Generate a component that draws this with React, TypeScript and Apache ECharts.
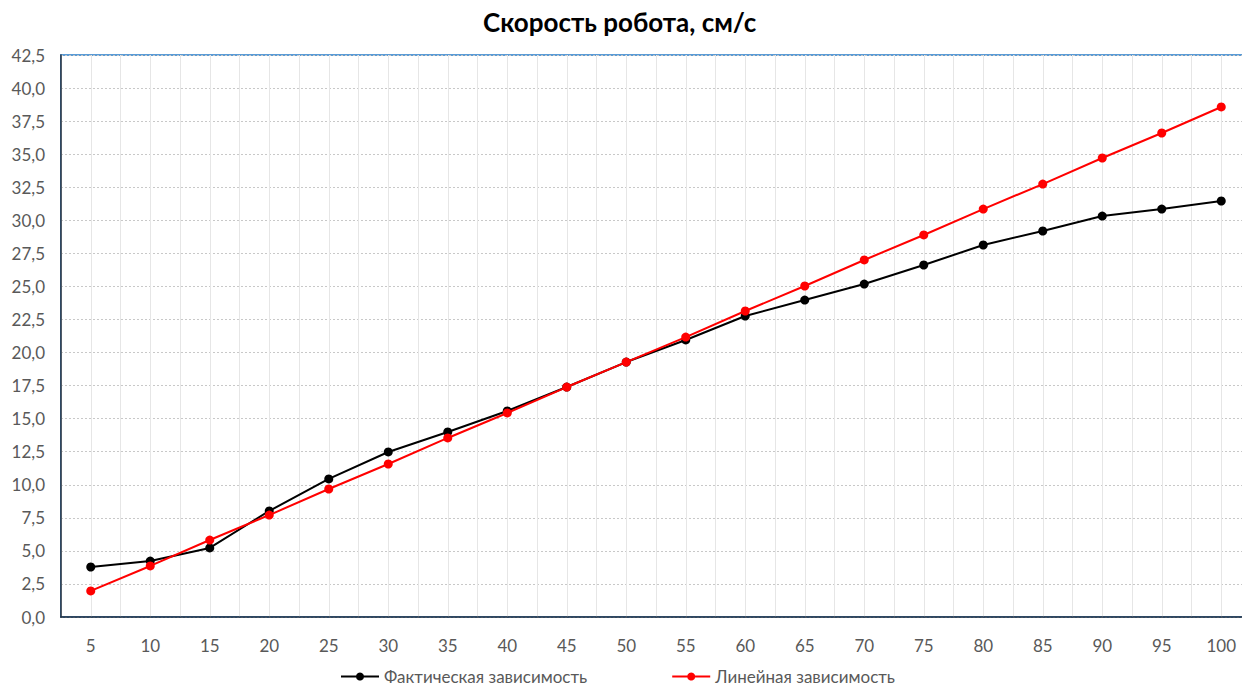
import React, { useEffect, useRef } from "react";
import * as echarts from "echarts";

const speeds = [5, 10, 15, 20, 25, 30, 35, 40, 45, 50, 55, 60, 65, 70, 75, 80, 85, 90, 95, 100];
const actual = [3.78, 4.23, 5.22, 8.02, 10.44, 12.48, 13.99, 15.58, 17.39, 19.28, 20.95, 22.76, 23.97, 25.18, 26.62, 28.13, 29.19, 30.32, 30.85, 31.46];
const linear = [1.97, 3.86, 5.82, 7.71, 9.68, 11.57, 13.54, 15.43, 17.39, 19.28, 21.17, 23.14, 25.03, 27.0, 28.89, 30.85, 32.74, 34.71, 36.6, 38.57];
const seriesNames = ["Фактическая зависимость", "Линейная зависимость"];
const titleText = "Скорость робота, см/с";

const FONT = "Lato, 'Noto Sans', sans-serif";

export default function App() {
  const ref = useRef<HTMLDivElement>(null);
  useEffect(() => {
    if (!ref.current) return;
    const chart = echarts.init(ref.current, null, { renderer: "svg" });
    const pairs = (ys: number[]) => speeds.map((x, i) => [x, ys[i]]);
    chart.setOption({
      animation: false,
      backgroundColor: "#ffffff",
      title: {
        text: titleText,
        left: 478,
        top: 4,
        textStyle: { fontFamily: FONT, fontSize: 26, fontWeight: "bold", color: "#000" },
      },
      legend: {
        bottom: 0,
        left: 335,
        itemGap: 84,
        itemWidth: 38,
        itemHeight: 10,
        textStyle: { fontFamily: FONT, fontSize: 17, color: "#595959" },
        data: seriesNames,
      },
      grid: {
        left: 61,
        right: 0,
        top: 55,
        bottom: 73,
        show: true,
        borderColor: "#5B9BD5",
        borderWidth: 2,
      },
      xAxis: {
        type: "value",
        min: 2.5,
        max: 102.5,
        interval: 2.5,
        axisLine: { show: true, onZero: false, lineStyle: { color: "#1f2d3d", width: 1.5 } },
        axisTick: { show: false },
        splitLine: { show: true, lineStyle: { color: "#e6e6e6", width: 1, type: "solid" } },
        axisLabel: {
          fontFamily: FONT,
          fontSize: 17,
          color: "#595959",
          margin: 20,
          showMinLabel: true,
          showMaxLabel: true,
          formatter: (v: number) => (Math.abs(v % 5) < 1e-6 ? String(v) : ""),
        },
      },
      yAxis: {
        type: "value",
        min: 0,
        max: 42.5,
        interval: 2.5,
        axisLine: { show: true, lineStyle: { color: "#1f2d3d", width: 1.5 } },
        axisTick: { show: false },
        splitLine: { show: true, lineStyle: { color: "#c8c8c8", width: 1, type: [2, 2] } },
        axisLabel: {
          fontFamily: FONT,
          fontSize: 17,
          color: "#595959",
          margin: 16,
          formatter: (v: number) => v.toFixed(1).replace(".", ","),
        },
      },
      series: [
        {
          name: seriesNames[0],
          type: "line",
          data: pairs(actual),
          symbol: "circle",
          symbolSize: 9,
          itemStyle: { color: "#000000" },
          lineStyle: { color: "#000000", width: 2 },
          z: 3,
        },
        {
          name: seriesNames[1],
          type: "line",
          data: pairs(linear),
          symbol: "circle",
          symbolSize: 9,
          itemStyle: { color: "#ff0000" },
          lineStyle: { color: "#ff0000", width: 2 },
          z: 4,
        },
      ],
    });
    return () => chart.dispose();
  }, []);
  return (
    <div style={{ position: "absolute", left: 0, top: 0, width: 1242, height: 690, overflow: "hidden" }}>
      <div ref={ref} style={{ width: 1254, height: 690 }} />
    </div>
  );
}
